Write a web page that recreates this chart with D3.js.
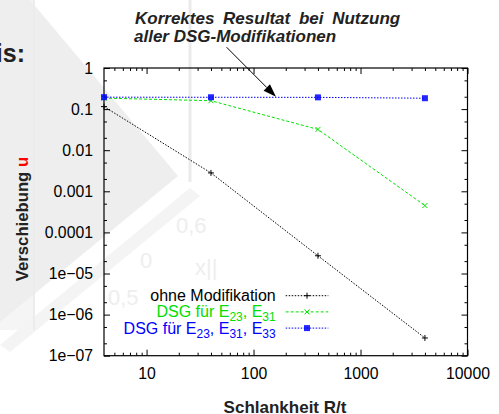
<!DOCTYPE html>
<html>
<head>
<meta charset="utf-8">
<script src="https://cdn.jsdelivr.net/npm/d3@7"></script>
<style>
  html, body { margin: 0; padding: 0; background: #fff; }
  svg { display: block; font-family: "Liberation Sans", Arial, Helvetica, sans-serif; }
</style>
</head>
<body>
<svg id="chart" width="499" height="414"></svg>
<script>
// ---- data ----
const xValues = [4, 40, 400, 4000];
const ohneModifikation = [0.115, 0.0028, 2.7e-5, 2.7e-7];
const dsgE23E31 = [0.185, 0.16, 0.032, 4.5e-4];
const dsgE23E31E33 = [0.195, 0.194, 0.193, 0.184];

const xMajorTicks = [10, 100, 1000, 10000];
const xTickLabels = ["10", "100", "1000", "10000"];
const yMajorTicks = [1, 0.1, 0.01, 0.001, 0.0001, 1e-5, 1e-6, 1e-7];
const yTickLabels = ["1", "0.1", "0.01", "0.001", "0.0001", "1e\u221205", "1e\u221206", "1e\u221207"];
const xDomain = [4, 10000];
const yDomain = [1e-7, 1];

// annotation arrow (data coordinates)
const arrowFrom = [56, 3.2];
const arrowTo = [162, 0.2];

// ---- layout ----
const W = 499, H = 414;
const L = 104, R = 467.5, T = 68, B = 355.7;
const svg = d3.select("#chart");

// faint background decoration (washed-out slide image)
const bg = svg.append("g");
bg.append("rect").attr("x", 0).attr("y", 0).attr("width", 34).attr("height", 330).attr("fill", "#f5f5f5");
bg.append("path").attr("d", "M0,0 L30,0 L178,176 L0,322 Z").attr("fill", "#eeeeee");
bg.append("path").attr("d", "M0,345 L190,188 L200,196 L10,352 Z").attr("fill", "#f4f4f4");
bg.append("line").attr("x1", 190).attr("x2", 190).attr("y1", 0).attr("y2", 182)
  .attr("stroke", "#eaeaea").attr("stroke-width", 3);
bg.append("line").attr("x1", 34).attr("x2", 34).attr("y1", 0).attr("y2", 330)
  .attr("stroke", "#ececec").attr("stroke-width", 2);
const faint = [["0,6", 176, 233], ["0,5", 108, 305], ["0", 140, 268], ["x||", 195, 275]];
bg.selectAll("text.faint").data(faint).join("text")
  .attr("class", "faint").attr("x", d => d[1]).attr("y", d => d[2])
  .attr("font-size", 22).attr("fill", "#eeeeee").text(d => d[0]);

// ---- scales ----
const x = d3.scaleLog().domain(xDomain).range([L, R]);
const y = d3.scaleLog().domain(yDomain).range([B, T]);

function minorTicks(domain) {
  const out = [];
  const lo = Math.floor(Math.log10(domain[0])), hi = Math.ceil(Math.log10(domain[1]));
  for (let e = lo; e < hi; e++) for (let m = 2; m <= 9; m++) {
    const v = m * Math.pow(10, e);
    if (v > domain[0] && v < domain[1]) out.push(v);
  }
  return out;
}
const xMinor = minorTicks(xDomain);
const yMinor = [];
for (let e = -7; e < 0; e++) { yMinor.push(2 * Math.pow(10, e)); yMinor.push(5 * Math.pow(10, e)); }

const tickFont = 15.8;
function styleAxis(g) {
  g.select(".domain").remove();
  g.selectAll("line").attr("stroke", "#000").attr("stroke-width", 1);
  g.selectAll("text").attr("font-size", tickFont).attr("fill", "#000").attr("font-family", "Liberation Sans, Arial, sans-serif");
}

// bottom
svg.append("g").attr("transform", `translate(0,${B})`)
  .call(d3.axisBottom(x).tickValues(xMajorTicks).tickFormat((d, i) => xTickLabels[i]).tickSizeInner(-6).tickSizeOuter(0).tickPadding(12))
  .call(styleAxis);
svg.append("g").attr("transform", `translate(0,${B})`)
  .call(d3.axisBottom(x).tickValues(xMinor).tickFormat("").tickSizeInner(-3).tickSizeOuter(0))
  .call(styleAxis);
// top
svg.append("g").attr("transform", `translate(0,${T})`)
  .call(d3.axisTop(x).tickValues(xMajorTicks).tickFormat("").tickSizeInner(-6).tickSizeOuter(0))
  .call(styleAxis);
svg.append("g").attr("transform", `translate(0,${T})`)
  .call(d3.axisTop(x).tickValues(xMinor).tickFormat("").tickSizeInner(-3).tickSizeOuter(0))
  .call(styleAxis);
// left
svg.append("g").attr("transform", `translate(${L},0)`)
  .call(d3.axisLeft(y).tickValues(yMajorTicks).tickFormat((d, i) => yTickLabels[i]).tickSizeInner(-6).tickSizeOuter(0).tickPadding(11))
  .call(styleAxis);
svg.append("g").attr("transform", `translate(${L},0)`)
  .call(d3.axisLeft(y).tickValues(yMinor).tickFormat("").tickSizeInner(-3).tickSizeOuter(0))
  .call(styleAxis);
// right
svg.append("g").attr("transform", `translate(${R},0)`)
  .call(d3.axisRight(y).tickValues(yMajorTicks).tickFormat("").tickSizeInner(-6).tickSizeOuter(0))
  .call(styleAxis);
svg.append("g").attr("transform", `translate(${R},0)`)
  .call(d3.axisRight(y).tickValues(yMinor).tickFormat("").tickSizeInner(-3).tickSizeOuter(0))
  .call(styleAxis);

// frame
svg.append("rect").attr("x", L).attr("y", T).attr("width", R - L).attr("height", B - T)
  .attr("fill", "none").attr("stroke", "#000").attr("stroke-width", 1.2);

// ---- series ----
const series = [
  { name: "ohne Modifikation", values: ohneModifikation, color: "#000000", dash: "1.5,1.5", marker: "plus" },
  { name: "DSG für E23, E31", values: dsgE23E31, color: "#00e000", dash: "3,2", marker: "cross" },
  { name: "DSG für E23, E31, E33", values: dsgE23E31E33, color: "#0000ff", dash: "1.5,1.5", marker: "square" }
];

const line = d3.line().x(d => x(d[0])).y(d => y(d[1]));

function drawMarker(g, type, color, cx, cy) {
  if (type === "plus") {
    g.append("path").attr("d", `M${cx - 3},${cy} H${cx + 3} M${cx},${cy - 3} V${cy + 3}`)
      .attr("stroke", color).attr("stroke-width", 1);
  } else if (type === "cross") {
    g.append("path").attr("d", `M${cx - 2.5},${cy - 2.5} L${cx + 2.5},${cy + 2.5} M${cx - 2.5},${cy + 2.5} L${cx + 2.5},${cy - 2.5}`)
      .attr("stroke", color).attr("stroke-width", 1);
  } else {
    g.append("rect").attr("x", cx - 3).attr("y", cy - 3).attr("width", 6).attr("height", 6)
      .attr("fill", color).attr("fill-opacity", 0.85);
  }
}

const plot = svg.append("g");
series.forEach(s => {
  const pts = xValues.map((xv, i) => [xv, s.values[i]]);
  plot.append("path").datum(pts).attr("d", line)
    .attr("fill", "none").attr("stroke", s.color).attr("stroke-width", 1).attr("stroke-dasharray", s.dash);
  pts.forEach(p => drawMarker(plot, s.marker, s.color, x(p[0]), y(p[1])));
});

// ---- legend ----
const legX = 275.7, legY0 = 295.7, legDy = 16.2;
const lg = svg.append("g");
function legendText(row, color, parts) {
  const t = lg.append("text").attr("x", legX).attr("y", legY0 + row * legDy + 5.5)
    .attr("text-anchor", "end").attr("font-size", 16).attr("fill", color);
  parts.forEach(p => {
    if (p.sub) t.append("tspan").attr("font-size", 12).attr("dy", 4).text(p.t);
    else t.append("tspan").attr("dy", p.up ? -4 : 0).text(p.t);
  });
}
legendText(0, "#000", [{ t: "ohne Modifikation" }]);
legendText(1, "#00e000", [{ t: "DSG für E" }, { t: "23", sub: true }, { t: ", E", up: true }, { t: "31", sub: true }]);
legendText(2, "#0000ff", [{ t: "DSG für E" }, { t: "23", sub: true }, { t: ", E", up: true }, { t: "31", sub: true }, { t: ", E", up: true }, { t: "33", sub: true }]);
series.forEach((s, i) => {
  const yy = legY0 + i * legDy;
  lg.append("line").attr("x1", 285.7).attr("x2", 328.3).attr("y1", yy).attr("y2", yy)
    .attr("stroke", s.color).attr("stroke-width", 1).attr("stroke-dasharray", s.dash);
  drawMarker(lg, s.marker, s.color, 307, yy);
});

// ---- axis labels ----
svg.append("text").attr("transform", `translate(28,219) rotate(-90)`).attr("text-anchor", "middle")
  .attr("font-size", 16.7).attr("font-weight", "bold").attr("fill", "#222")
  .call(t => { t.append("tspan").text("Verschiebung "); t.append("tspan").attr("fill", "#ff0000").text("u"); });
svg.append("text").attr("x", 285).attr("y", 413).attr("text-anchor", "middle")
  .attr("font-size", 17).attr("font-weight", "bold").attr("fill", "#222").text("Schlankheit R/t");

// ---- annotation ----
svg.append("text").attr("x", 135).attr("y", 24).attr("font-size", 17).attr("font-weight", "bold")
  .attr("font-style", "italic").attr("fill", "#222").attr("word-spacing", 4).text("Korrektes Resultat bei Nutzung");
svg.append("text").attr("x", 134).attr("y", 42).attr("font-size", 17).attr("font-weight", "bold")
  .attr("font-style", "italic").attr("fill", "#222").text("aller DSG-Modifikationen");
svg.append("text").attr("x", 25).attr("y", 62).attr("text-anchor", "end").attr("font-size", 25)
  .attr("font-weight", "bold").attr("fill", "#222").text("is:");

const ax0 = x(arrowFrom[0]), ay0 = y(arrowFrom[1]), ax1 = x(arrowTo[0]), ay1 = y(arrowTo[1]);
const ang = Math.atan2(ay1 - ay0, ax1 - ax0);
const hl = 13, hw = 4.5;
const bx = ax1 - hl * Math.cos(ang), by = ay1 - hl * Math.sin(ang);
svg.append("line").attr("x1", ax0).attr("y1", ay0).attr("x2", bx).attr("y2", by)
  .attr("stroke", "#000").attr("stroke-width", 1);
svg.append("path")
  .attr("d", `M${ax1},${ay1} L${bx + hw * Math.sin(ang)},${by - hw * Math.cos(ang)} L${bx - hw * Math.sin(ang)},${by + hw * Math.cos(ang)} Z`)
  .attr("fill", "#000");
</script>
</body>
</html>
